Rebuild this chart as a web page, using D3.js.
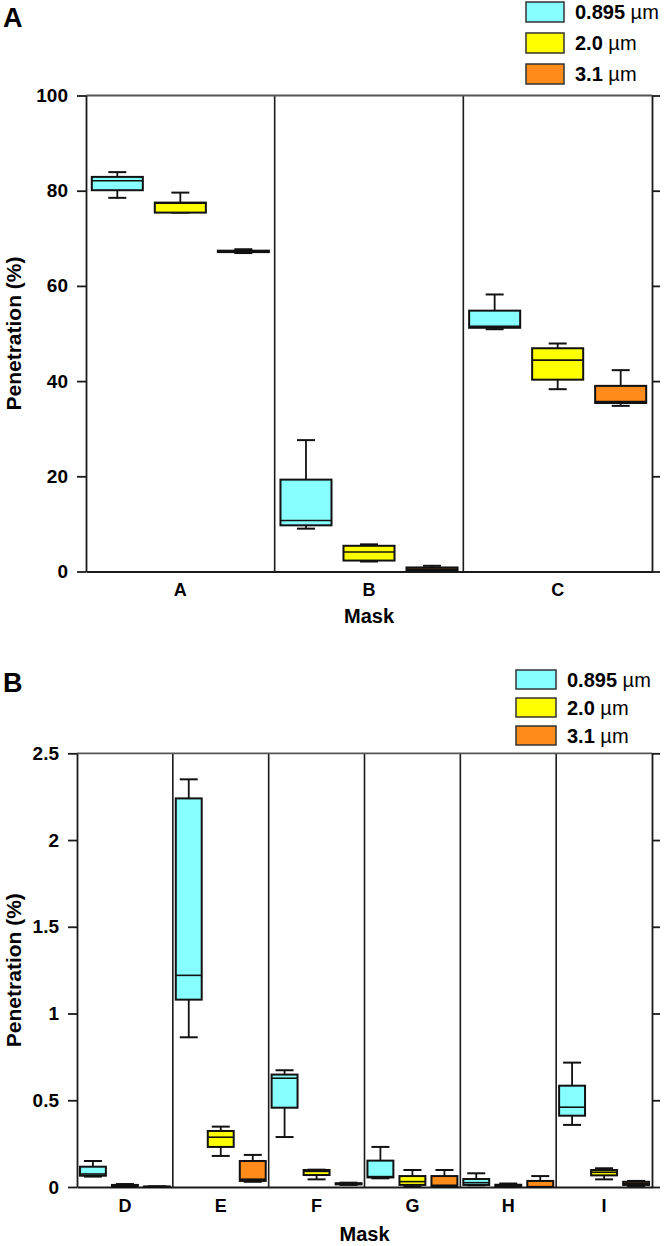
<!DOCTYPE html>
<html>
<head>
<meta charset="utf-8">
<script src="https://cdn.jsdelivr.net/npm/d3@7"></script>
<style>
  html, body { margin: 0; padding: 0; background: #fff; }
  svg { display: block; }
  text { font-family: "Liberation Sans", Arial, sans-serif; font-weight: bold; fill: #000; }
</style>
</head>
<body>
<svg id="chart" width="664" height="1246"></svg>
<script>
// ---------- DATA ----------
const seriesNames = ["0.895", "2.0", "3.1"];
const seriesColors = ["#88ffff", "#ffff00", "#ff8c1a"];

// Panel A — each entry: [lower whisker, Q1, median, Q3, upper whisker]
const topCategories = ["A", "B", "C"];
const topTicks = [0, 20, 40, 60, 80, 100];
const top0895 = [[78.5, 80.1, 82.1, 82.9, 83.9], [9.0, 9.7, 10.7, 19.3, 27.6], [50.9, 51.2, 51.5, 54.8, 58.2]];
const top20   = [[75.4, 75.4, 77.4, 77.5, 79.6], [2.1, 2.3, 4.1, 5.4, 5.7], [38.3, 40.3, 44.4, 46.9, 47.9]];
const top31   = [[66.9, 67.1, 67.25, 67.4, 67.7], [0.1, 0.2, 0.5, 0.85, 1.2], [34.8, 35.4, 35.7, 39.0, 42.3]];

// Panel B
const bottomCategories = ["D", "E", "F", "G", "H", "I"];
const bottomTicks = [0, 0.5, 1, 1.5, 2, 2.5];
const bottom0895 = [[0.06, 0.065, 0.075, 0.117, 0.15], [0.863, 1.08, 1.22, 2.24, 2.35], [0.288, 0.457, 0.627, 0.648, 0.673],
                    [0.05, 0.055, 0.06, 0.152, 0.231], [0.01, 0.012, 0.025, 0.046, 0.079], [0.358, 0.411, 0.46, 0.584, 0.717]];
const bottom20   = [[0.0, 0.002, 0.006, 0.012, 0.017], [0.179, 0.231, 0.287, 0.323, 0.348], [0.044, 0.069, 0.09, 0.098, 0.1],
                    [0.002, 0.012, 0.031, 0.063, 0.098], [0.0, 0.004, 0.008, 0.013, 0.02], [0.044, 0.067, 0.085, 0.098, 0.108]];
const bottom31   = [[0.0, 0.001, 0.002, 0.003, 0.004], [0.03, 0.035, 0.045, 0.15, 0.185], [0.012, 0.015, 0.018, 0.022, 0.025],
                    [0.0, 0.003, 0.01, 0.063, 0.098], [0.0, 0.0, 0.002, 0.035, 0.063], [0.006, 0.012, 0.02, 0.03, 0.035]];

// ---------- DRAW ----------
const svg = d3.select("#chart");
const FRAME = "#1a1a1a";

function drawPanel(cfg) {
  const g = svg.append("g");
  const x = d3.scaleBand().domain(cfg.categories).range([cfg.left, cfg.right]).paddingInner(0).paddingOuter(0);
  const inner = d3.scaleBand().domain(d3.range(seriesNames.length)).range([0, x.bandwidth()])
    .paddingInner(0.19).paddingOuter(0.092);
  const y = d3.scaleLinear().domain(cfg.domain).range([cfg.bottom, cfg.top]);

  // separators between categories
  g.append("g").selectAll("line").data(cfg.categories.slice(1)).join("line")
    .attr("x1", d => x(d)).attr("x2", d => x(d))
    .attr("y1", y(cfg.domain[0])).attr("y2", y(cfg.domain[1]))
    .attr("stroke", FRAME).attr("stroke-width", 1.6);

  // top frame
  g.append("line").attr("x1", cfg.left).attr("x2", cfg.right)
    .attr("y1", y(cfg.domain[1])).attr("y2", y(cfg.domain[1]))
    .attr("stroke", "#555").attr("stroke-width", 1.8);

  // left axis
  const ax = g.append("g").attr("transform", `translate(${cfg.left},0)`)
    .call(d3.axisLeft(y).tickValues(cfg.ticks).tickSize(9).tickPadding(9).tickFormat(d3.format("")).tickSizeOuter(0));
  ax.selectAll("path,line").attr("stroke", FRAME).attr("stroke-width", 1.8);
  ax.selectAll("text").attr("font-size", 19).attr("font-family", "Liberation Sans, Arial, sans-serif").attr("font-weight", "bold").attr("fill", "#000");

  // right axis
  const axR = g.append("g").attr("transform", `translate(${cfg.right},0)`)
    .call(d3.axisRight(y).tickValues(cfg.ticks).tickSize(8).tickFormat("").tickSizeOuter(0));
  axR.selectAll("path,line").attr("stroke", FRAME).attr("stroke-width", 1.8);

  // bottom axis
  const axB = g.append("g").attr("transform", `translate(0,${cfg.bottom})`)
    .call(d3.axisBottom(x).tickSize(0).tickPadding(12).tickSizeOuter(0));
  axB.selectAll("path").attr("stroke", FRAME).attr("stroke-width", 2.2);
  axB.selectAll("text").attr("font-size", 18).attr("font-family", "Liberation Sans, Arial, sans-serif").attr("font-weight", "bold").attr("fill", "#000");

  // boxes
  const capW = 18;
  cfg.series.forEach((vals, si) => {
    const sg = g.append("g");
    const items = vals.map((v, ci) => ({ v, cx: x(cfg.categories[ci]) + inner(si) + inner.bandwidth() / 2, x0: x(cfg.categories[ci]) + inner(si) }));
    const bw = inner.bandwidth();
    sg.selectAll("line.wl").data(items).join("line").attr("class", "wl")
      .attr("x1", d => d.cx).attr("x2", d => d.cx).attr("y1", d => y(d.v[0])).attr("y2", d => y(d.v[1]))
      .attr("stroke", "#111").attr("stroke-width", 1.8);
    sg.selectAll("line.wh").data(items).join("line").attr("class", "wh")
      .attr("x1", d => d.cx).attr("x2", d => d.cx).attr("y1", d => y(d.v[3])).attr("y2", d => y(d.v[4]))
      .attr("stroke", "#111").attr("stroke-width", 1.8);
    [0, 4].forEach(k => {
      sg.selectAll("line.cap" + k).data(items).join("line").attr("class", "cap" + k)
        .attr("x1", d => d.cx - capW / 2).attr("x2", d => d.cx + capW / 2)
        .attr("y1", d => y(d.v[k])).attr("y2", d => y(d.v[k]))
        .attr("stroke", "#111").attr("stroke-width", 2);
    });
    sg.selectAll("rect").data(items).join("rect")
      .attr("x", d => d.x0).attr("width", bw)
      .attr("y", d => y(d.v[3])).attr("height", d => Math.max(0, y(d.v[1]) - y(d.v[3])))
      .attr("fill", seriesColors[si]).attr("stroke", "#111").attr("stroke-width", 2);
    sg.selectAll("line.med").data(items).join("line").attr("class", "med")
      .attr("x1", d => d.x0).attr("x2", d => d.x0 + bw)
      .attr("y1", d => y(d.v[2])).attr("y2", d => y(d.v[2]))
      .attr("stroke", "#111").attr("stroke-width", 1.6);
  });

  // axis titles
  g.append("text").attr("transform", `translate(${cfg.ytitleX},${(cfg.top + cfg.bottom) / 2}) rotate(-90)`)
    .attr("text-anchor", "middle").attr("font-size", 21).text("Penetration (%)");
  g.append("text").attr("x", (cfg.left + cfg.right) / 2).attr("y", cfg.xtitleY)
    .attr("text-anchor", "middle").attr("font-size", 20).text("Mask");

  // panel letter
  g.append("text").attr("x", 3).attr("y", cfg.letterY).attr("font-size", 27).text(cfg.letter);

  // legend
  const lg = g.append("g");
  const rows = lg.selectAll("g").data(seriesNames).join("g")
    .attr("transform", (d, i) => `translate(${cfg.legX},${cfg.legY + i * cfg.legStep})`);
  rows.append("rect").attr("width", cfg.legW).attr("height", cfg.legH)
    .attr("fill", (d, i) => seriesColors[i]).attr("stroke", "#333").attr("stroke-width", 1.5);
  const t = rows.append("text").attr("x", cfg.legW + 11).attr("y", cfg.legH / 2 + 7).attr("font-size", 20);
  t.append("tspan").text(d => d + " ");
  t.append("tspan").attr("font-weight", "normal").text("\u00b5m");
}

drawPanel({
  categories: topCategories, series: [top0895, top20, top31], ticks: topTicks, domain: [0, 100],
  left: 86, right: 652, top: 95.5, bottom: 571.5,
  ytitleX: 21, xtitleY: 623, letter: "A", letterY: 27,
  legX: 526, legY: 2, legStep: 31, legW: 38, legH: 20
});

drawPanel({
  categories: bottomCategories, series: [bottom0895, bottom20, bottom31], ticks: bottomTicks, domain: [0, 2.5],
  left: 77, right: 652, top: 753.3, bottom: 1187,
  ytitleX: 21, xtitleY: 1241, letter: "B", letterY: 692,
  legX: 516, legY: 670, legStep: 28, legW: 40, legH: 19
});
</script>
</body>
</html>
